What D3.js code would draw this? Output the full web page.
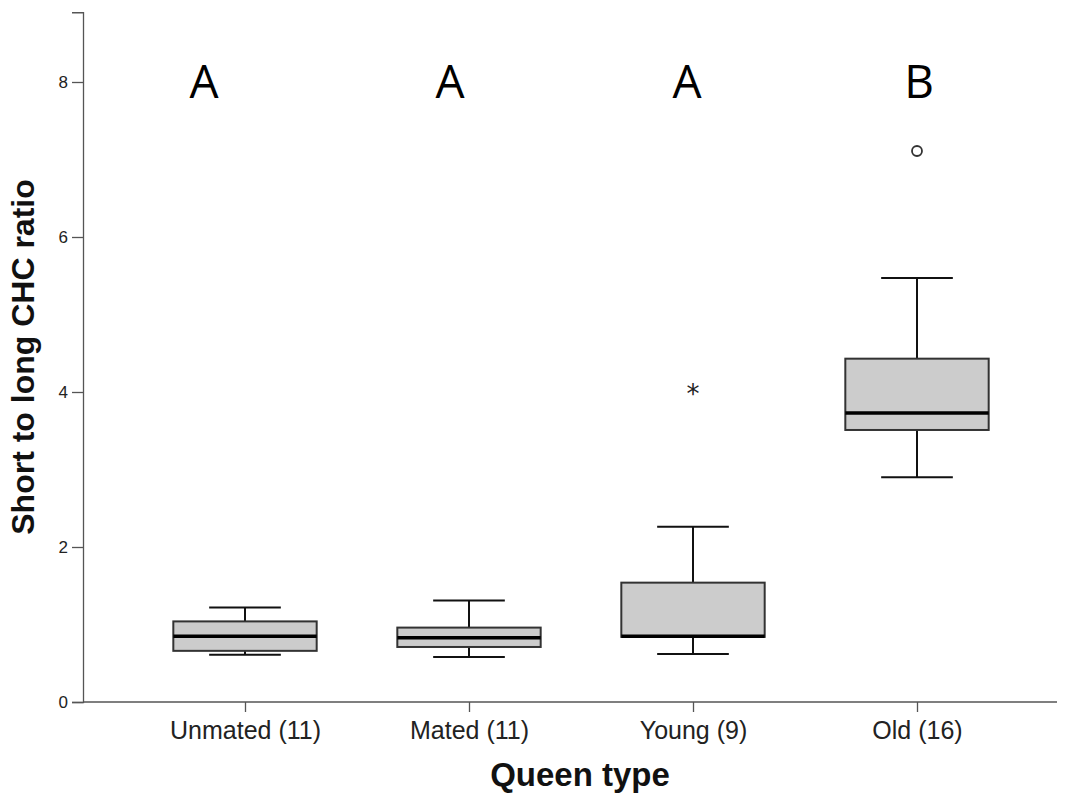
<!DOCTYPE html>
<html lang="en">
<head>
<meta charset="UTF-8">
<title>Short to long CHC ratio by queen type</title>
<script src="https://cdn.jsdelivr.net/npm/d3@7"></script>
<style>
	body { margin: 0; background: #fff; }
	svg { display: block; }
</style>
</head>
<body>
<svg id="chart" width="1068" height="796"></svg>
<script>
// values
var categories = ["Unmated (11)", "Mated (11)", "Young (9)", "Old (16)"];
var whiskerLow  = [0.61, 0.58, 0.62, 2.90];
var q1          = [0.66, 0.71, 0.84, 3.51];
var median      = [0.85, 0.83, 0.85, 3.73];
var q3          = [1.04, 0.96, 1.54, 4.43];
var whiskerHigh = [1.22, 1.31, 2.26, 5.47];
var outlierCat  = ["Young (9)", "Old (16)"];
var outlierVal  = [4.03, 7.11];
var outlierKind = ["extreme", "outlier"];
var groupLetters = ["A", "A", "A", "B"];
var yTicks = [0, 2, 4, 6, 8];

// letter placement (px shift from group centre), as in the original figure
var letterShift = [-41, -19, -6, 2];

var svg = d3.select("#chart");

var x = d3.scalePoint()
	.domain(categories)
	.range([245, 917]);

var y = d3.scaleLinear()
	.domain([0, 8.9])
	.range([702, 12.25]);

var step = x.step();
var boxW = step * 0.64;
var capW = step * 0.32;

// axes
var yAxis = d3.axisLeft(y).tickValues(yTicks).tickSize(11).tickPadding(4).tickFormat(d3.format("d"));
var gy = svg.append("g").attr("transform", "translate(83,0)").call(yAxis);
gy.select(".domain").attr("stroke", "#555").attr("stroke-width", 1.3);
gy.selectAll(".tick line").attr("stroke", "#555").attr("stroke-width", 1.3);
gy.selectAll(".tick text").attr("font-family", "Arial, 'Liberation Sans', sans-serif")
	.attr("font-size", 17).attr("fill", "#222").attr("dy", "0.35em");

svg.append("line")
	.attr("x1", 83).attr("x2", 1057)
	.attr("y1", y(0)).attr("y2", y(0))
	.attr("stroke", "#555").attr("stroke-width", 1.3);

var xAxis = d3.axisBottom(x).tickSize(10).tickPadding(9);
var gx = svg.append("g").attr("transform", "translate(0," + y(0) + ")").call(xAxis);
gx.select(".domain").remove();
gx.selectAll(".tick line").attr("stroke", "#555").attr("stroke-width", 1.3);
gx.selectAll(".tick text").attr("font-family", "Arial, 'Liberation Sans', sans-serif")
	.attr("font-size", 25).attr("fill", "#222");

// axis titles
svg.append("text")
	.attr("x", 580).attr("y", 786)
	.attr("text-anchor", "middle")
	.attr("font-family", "Arial, 'Liberation Sans', sans-serif")
	.attr("font-weight", "bold")
	.attr("font-size", 33)
	.attr("fill", "#111")
	.text("Queen type");

svg.append("text")
	.attr("transform", "translate(34,357) rotate(-90)")
	.attr("text-anchor", "middle")
	.attr("font-family", "Arial, 'Liberation Sans', sans-serif")
	.attr("font-weight", "bold")
	.attr("font-size", 32)
	.attr("fill", "#111")
	.text("Short to long CHC ratio");

// boxes
var rows = categories.map(function(c, i) {
	return { cat: c, lo: whiskerLow[i], q1: q1[i], med: median[i], q3: q3[i], hi: whiskerHigh[i] };
});

var boxes = svg.append("g").selectAll("g")
	.data(rows)
	.enter()
	.append("g");

boxes.append("line")
	.attr("x1", function(d){ return x(d.cat); })
	.attr("x2", function(d){ return x(d.cat); })
	.attr("y1", function(d){ return y(d.hi); })
	.attr("y2", function(d){ return y(d.lo); })
	.attr("stroke", "#111").attr("stroke-width", 2);

boxes.append("line")
	.attr("x1", function(d){ return x(d.cat) - capW / 2; })
	.attr("x2", function(d){ return x(d.cat) + capW / 2; })
	.attr("y1", function(d){ return y(d.hi); })
	.attr("y2", function(d){ return y(d.hi); })
	.attr("stroke", "#111").attr("stroke-width", 2);

boxes.append("line")
	.attr("x1", function(d){ return x(d.cat) - capW / 2; })
	.attr("x2", function(d){ return x(d.cat) + capW / 2; })
	.attr("y1", function(d){ return y(d.lo); })
	.attr("y2", function(d){ return y(d.lo); })
	.attr("stroke", "#111").attr("stroke-width", 2);

boxes.append("rect")
	.attr("x", function(d){ return x(d.cat) - boxW / 2; })
	.attr("width", boxW)
	.attr("y", function(d){ return y(d.q3); })
	.attr("height", function(d){ return y(d.q1) - y(d.q3); })
	.attr("fill", "#cccccc")
	.attr("stroke", "#333").attr("stroke-width", 2);

boxes.append("line")
	.attr("x1", function(d){ return x(d.cat) - boxW / 2; })
	.attr("x2", function(d){ return x(d.cat) + boxW / 2; })
	.attr("y1", function(d){ return y(d.med); })
	.attr("y2", function(d){ return y(d.med); })
	.attr("stroke", "#000").attr("stroke-width", 3.5);

// outliers
outlierCat.forEach(function(c, i) {
	if (outlierKind[i] === "outlier") {
		svg.append("circle")
			.attr("cx", x(c)).attr("cy", y(outlierVal[i]))
			.attr("r", 5)
			.attr("fill", "none")
			.attr("stroke", "#333").attr("stroke-width", 1.8);
	} else {
		svg.append("text")
			.attr("x", x(c)).attr("y", y(outlierVal[i]) + 13)
			.attr("text-anchor", "middle")
			.attr("font-family", "'DejaVu Sans', sans-serif")
			.attr("font-size", 26)
			.attr("fill", "#222")
			.text("*");
	}
});

// significance letters
svg.append("g").selectAll("text")
	.data(groupLetters)
	.enter()
	.append("text")
	.attr("x", function(d, i){ return x(categories[i]) + letterShift[i]; })
	.attr("y", 98)
	.attr("text-anchor", "middle")
	.attr("font-family", "'Open Sans', sans-serif")
	.attr("font-size", 46)
	.attr("fill", "#000")
	.text(function(d){ return d; });
</script>
</body>
</html>
